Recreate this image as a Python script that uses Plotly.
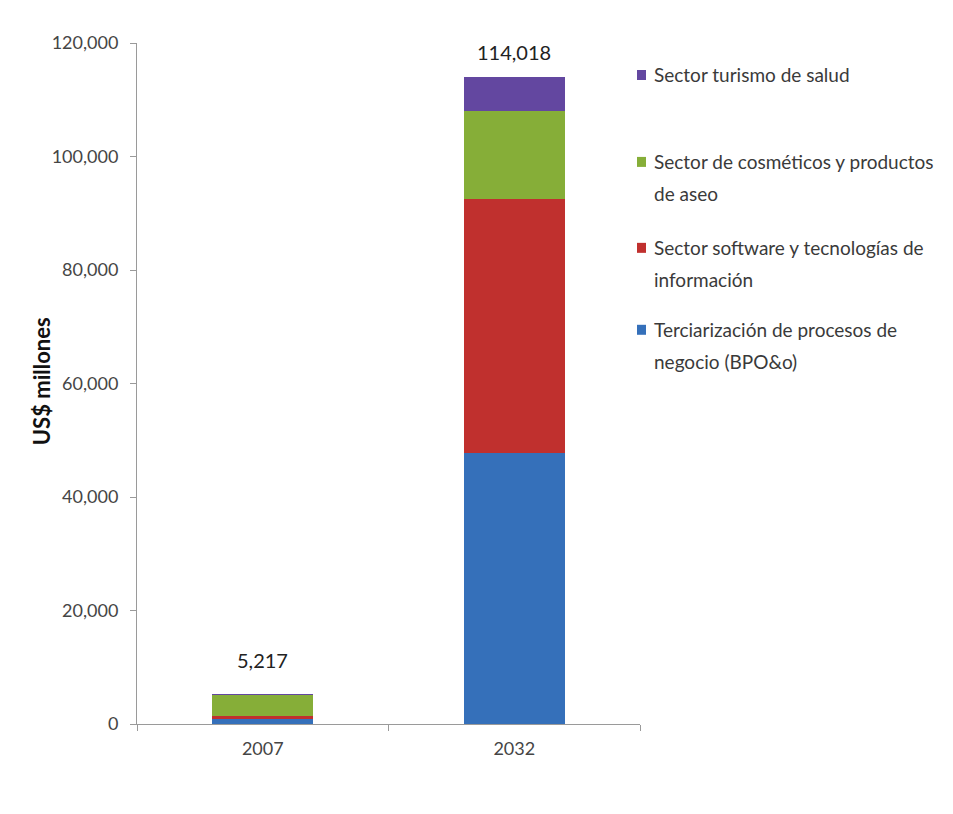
import plotly.graph_objects as go

# Categories and series (US$ millones), stacked bottom to top
years = ["2007", "2032"]
series_names = [
    "Terciarización de procesos de<br>negocio (BPO&o)",
    "Sector software y tecnologías de<br>información",
    "Sector de cosméticos y productos<br>de aseo",
    "Sector turismo de salud",
]
bpo = [850, 47750]
software = [530, 44750]
cosmeticos = [3820, 15500]
turismo = [17, 6018]
totals = [5217, 114018]

colors = ["#3570BA", "#C0302E", "#86AE38", "#6347A0"]
values = [bpo, software, cosmeticos, turismo]

W, H = 953, 814
L, R, T, B = 137, 640, 43, 724.5
FONT = "Lato"

fig = go.Figure()
for name, vals, col in zip(series_names, values, colors):
    fig.add_trace(go.Bar(
        x=years, y=vals, name=name.replace("<br>", " "),
        marker=dict(color=col, line=dict(width=0)),
        showlegend=False,
    ))


def px_x(p):
    return (p - L) / (R - L)


def px_y(p):
    return (B - p) / (B - T)


annotations = []
# Total labels above each stack (category position given by index)
for i, (tot, shift) in enumerate(zip(totals, (34, 25))):
    annotations.append(dict(
        x=i, y=tot, xref="x", yref="y", text=f"{tot:,}", showarrow=False,
        yshift=shift, font=dict(family=FONT, size=20, color="#222222"),
    ))

# Y-axis title
annotations.append(dict(
    x=px_x(26), y=px_y(382), xref="paper", yref="paper",
    text="<b>US$ millones</b>", textangle=-90, showarrow=False,
    font=dict(family=FONT, size=22, color="#111111"),
))

# Legend: text lines and colour squares, top entry first
line_rows = [[75], [162, 194], [248, 280], [330, 362]]
shapes = []
for name, col, rows in zip(reversed(series_names), reversed(colors), line_rows):
    for txt, py in zip(name.split("<br>"), rows):
        annotations.append(dict(
            x=px_x(652), y=px_y(py), xref="paper", yref="paper",
            text=txt, showarrow=False, xanchor="left", yanchor="middle",
            font=dict(family=FONT, size=19, color="#3a3a3a"),
        ))
    shapes.append(dict(
        type="rect", xref="paper", yref="paper",
        x0=px_x(637), x1=px_x(646), y0=px_y(rows[0] + 5), y1=px_y(rows[0] - 5),
        fillcolor=col, line=dict(width=0),
    ))

fig.update_layout(
    width=W, height=H,
    margin=dict(l=L, r=W - R, t=T, b=H - B),
    barmode="stack", bargap=0.6,
    plot_bgcolor="white", paper_bgcolor="white",
    font=dict(family=FONT, size=18, color="#454545"),
    annotations=annotations, shapes=shapes,
    xaxis=dict(
        type="category", range=[-0.5, len(years) - 0.5],
        showline=True, linecolor="#9a9a9a", linewidth=1,
        ticks="outside", tickson="boundaries", ticklen=6, tickcolor="#9a9a9a",
        tickfont=dict(family=FONT, size=18, color="#454545"),
        ticklabelstandoff=8,
        showgrid=False, fixedrange=True,
    ),
    yaxis=dict(
        range=[0, 120000], dtick=20000, tickformat=",",
        showline=True, linecolor="#9a9a9a", linewidth=1,
        ticks="outside", ticklen=6, tickcolor="#9a9a9a",
        ticklabelstandoff=8,
        tickfont=dict(family=FONT, size=18, color="#454545"),
        showgrid=False, zeroline=False, fixedrange=True,
    ),
)

fig.write_html("out.html")
